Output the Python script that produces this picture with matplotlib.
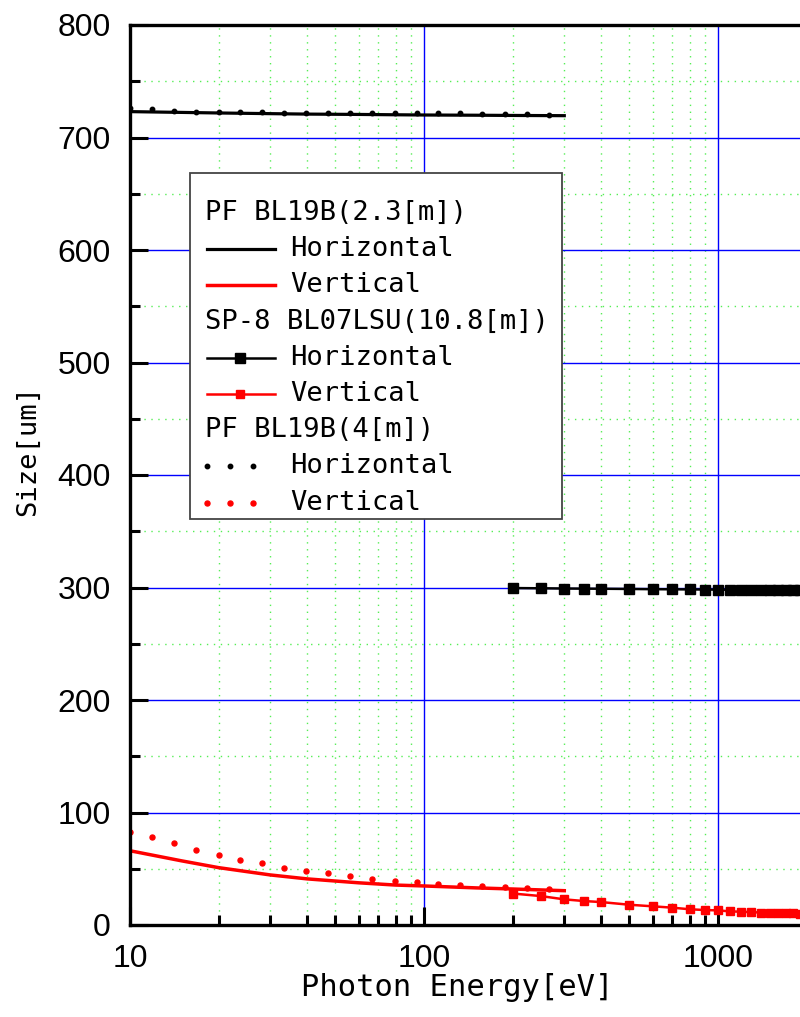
import numpy as np
import matplotlib
matplotlib.use("Agg")
import matplotlib.pyplot as plt
from matplotlib.lines import Line2D
from matplotlib.patches import Rectangle
from matplotlib.ticker import FixedLocator, MultipleLocator, NullFormatter

plt.rcParams["font.family"] = ["DejaVu Sans Mono"]

# PF BL19B, 2.3 m from source
pf23_energy = [10, 15, 20, 30, 40, 60, 80, 100, 150, 200, 300]
pf23_horiz = [723, 722.3, 721.8, 721.2, 720.8, 720.5, 720.2, 720, 719.8, 719.6, 719.4]
pf23_vert = [66, 57, 51, 44.5, 41, 37.5, 35.5, 34.7, 33, 32, 30.5]

# PF BL19B, 4 m from source
pf4_energy = [10, 11.9, 14.1, 16.8, 20, 23.7, 28.2, 33.5, 39.8, 47.3,
              56.2, 66.8, 79.4, 94.4, 112, 133, 158, 188, 224, 266]
pf4_horiz = [726, 725, 723.5, 723, 722.7, 722.4, 722.3, 722.2, 722.1, 722,
             722, 722, 721.9, 721.8, 721.7, 721.5, 721.3, 721, 720.7, 720.4]
pf4_vert = [83, 78, 73, 67, 62, 58, 55, 51, 48, 46,
            44, 41, 39, 38, 36.4, 35.5, 34.7, 34.1, 33, 32]

# SPring-8 BL07LSU, 10.8 m from source
sp8_energy = [200, 250, 300, 350, 400, 500, 600, 700, 800, 900, 1000,
              1100, 1200, 1300, 1400, 1500, 1600, 1700, 1800, 1900, 2000]
sp8_horiz = [299.5, 299.3, 299.1, 299, 298.9, 298.7, 298.5, 298.4, 298.3, 298.2, 298.1,
             298, 297.9, 297.8, 297.8, 297.7, 297.7, 297.6, 297.6, 297.5, 297.5]
sp8_vert = [28, 25.7, 22.8, 21.3, 20.4, 18, 16.6, 15.4, 14, 13.3, 13,
            12.1, 11.8, 11.4, 11.1, 10.9, 10.7, 10.5, 10.3, 10.1, 10]

x_ticks = [10, 100, 1000]
x_ticklabels = ["10", "100", "1000"]

W, H = 800, 1017
fig = plt.figure(figsize=(W / 100, H / 100), dpi=100)
# the axis runs on past the right edge of the figure
ax = fig.add_axes([130 / W, 92 / H, 882 / W, 900 / H])

ax.set_xscale("log")
ax.set_xlim(10, 10000)
ax.set_ylim(0, 800)

# grid: blue at major, dotted green at minor
ax.xaxis.set_major_locator(FixedLocator(x_ticks))
ax.xaxis.set_minor_locator(FixedLocator(
    [m * d for d in (10, 100, 1000) for m in range(2, 10)]))
ax.xaxis.set_minor_formatter(NullFormatter())
ax.set_xticklabels(x_ticklabels)
ax.yaxis.set_major_locator(MultipleLocator(100))
ax.yaxis.set_minor_locator(MultipleLocator(50))
ax.grid(which="major", color="#0000ff", lw=1.0, ls="-")
ax.grid(which="minor", color="#55ee55", lw=1.0, ls=(0, (1, 4)))
ax.set_axisbelow(True)

for s in ax.spines.values():
    s.set_linewidth(2.4)
ax.tick_params(which="both", direction="in", width=2.2, colors="black")
ax.tick_params(which="major", length=13)
ax.tick_params(which="minor", length=7)
ax.tick_params(axis="x", which="major", pad=14)
ax.tick_params(axis="y", which="major", pad=14)
for lab in ax.get_xticklabels() + ax.get_yticklabels():
    lab.set_family("Liberation Sans")
    lab.set_fontsize(23)

ax.plot(pf4_energy, pf4_horiz, ls="none", marker="o", ms=3.2, color="black")
ax.plot(pf4_energy, pf4_vert, ls="none", marker="o", ms=3.6, color="red")
ax.plot(pf23_energy, pf23_horiz, color="black", lw=2.3)
ax.plot(pf23_energy, pf23_vert, color="red", lw=2.5)
ax.plot(sp8_energy, sp8_horiz, color="black", lw=1.8, marker="s", ms=6.5)
ax.plot(sp8_energy, sp8_vert, color="red", lw=1.8, marker="s", ms=6.0)

ax.set_xlabel("Photon Energy[eV]", fontsize=22, va="center")
ax.xaxis.set_label_coords((457 - 130) / 882, (925 - 988) / 900)
ax.set_ylabel("Size[um]", fontsize=19.5, va="center")
ax.yaxis.set_label_coords((28 - 130) / 882, (925 - 451) / 900)


# legend built by hand so that the group titles sit flush left
def fx(px):
    return px / W


def fy(py):
    return 1 - py / H


fig.add_artist(Rectangle((fx(190), fy(519)), fx(562) - fx(190), fy(173) - fy(519),
                         transform=fig.transFigure, facecolor="white",
                         edgecolor="#444444", lw=1.3))

rows = [
    ("PF BL19B(2.3[m])", None),
    ("Horizontal", dict(color="black", lw=2.3)),
    ("Vertical", dict(color="red", lw=2.5)),
    ("SP-8 BL07LSU(10.8[m])", None),
    ("Horizontal", dict(color="black", lw=1.8, marker="s", ms=6.5)),
    ("Vertical", dict(color="red", lw=1.8, marker="s", ms=6.0)),
    ("PF BL19B(4[m])", None),
    ("Horizontal", dict(color="black", ls="none", marker="o", ms=3.2)),
    ("Vertical", dict(color="red", ls="none", marker="o", ms=3.6)),
]
y0, step = 213, 36.2
for i, (label, style) in enumerate(rows):
    yc = y0 + i * step
    if style is None:
        fig.text(fx(205), fy(yc), label, fontsize=19.5, va="center", ha="left")
        continue
    if style.get("ls") == "none":
        xs = [fx(207), fx(230), fx(253)]
    elif "marker" in style:
        xs = [fx(207), fx(240), fx(275)]
        style = dict(style, markevery=[1])
    else:
        xs = [fx(207), fx(275)]
    fig.add_artist(Line2D(xs, [fy(yc)] * len(xs), transform=fig.transFigure, **style))
    fig.text(fx(290), fy(yc), label, fontsize=19.5, va="center", ha="left")

fig.savefig("out.png", dpi=100)
